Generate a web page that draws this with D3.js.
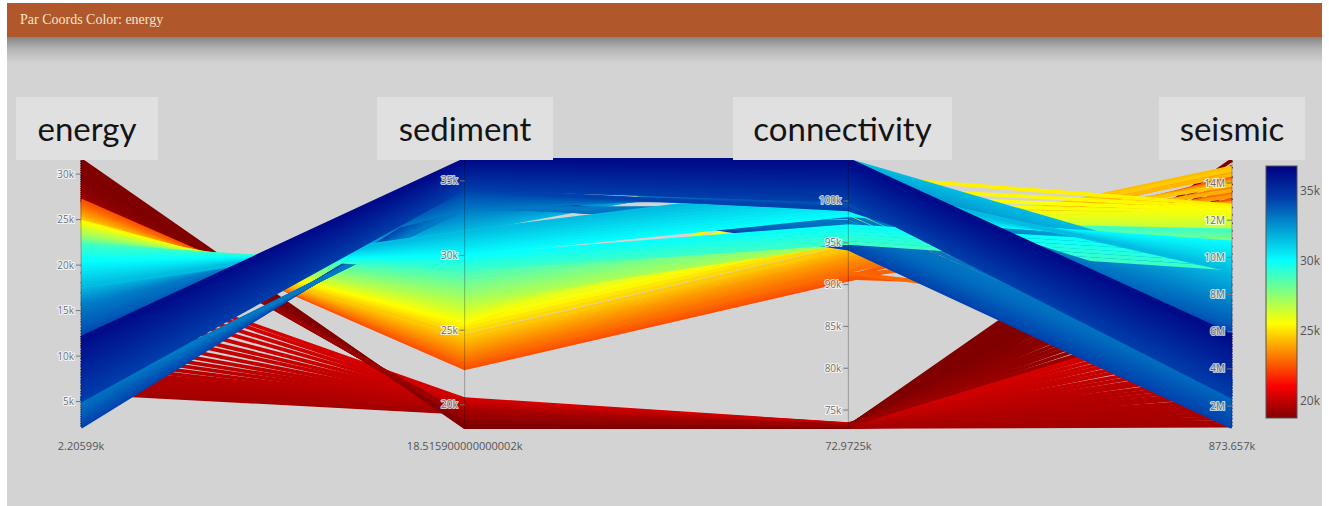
<!DOCTYPE html>
<html>
<head>
<meta charset="utf-8">
<script src="https://cdn.jsdelivr.net/npm/d3@7"></script>
<style>
  html, body { margin: 0; padding: 0; background: #ffffff; }
  svg { display: block; }
</style>
</head>
<body>
<svg id="chart" width="1329" height="506"></svg>
<script>
// ---- data -------------------------------------------------------------
const dimensions   = ["energy", "sediment", "connectivity", "seismic"];
const unitSuffix   = ["k", "k", "k", "M"];
const rangeLabels  = ["2.20599k", "18.515900000000002k", "72.9725k", "873.657k"];
const energyTicks  = [5, 10, 15, 20, 25, 30];
const sedimentTicks = [20, 25, 30, 35];
const connectivityTicks = [75, 80, 85, 90, 95, 100];
const seismicTicks = [2, 4, 6, 8, 10, 12, 14];
const colorTicks   = [20, 25, 30, 35];
const colorRange   = [18.8, 36.8];   // sediment (k) span of the colour bar
const chartTitle   = "Par Coords Color: energy";

// records: [energy (k), sediment (k), connectivity (k), seismic (M)]
const redLow = [
  [20.1, 20.38, 73.31, 6.95], [19.3, 20.33, 73.28, 6.7], [18.2, 20.27, 73.26, 6.35],
  [17.1, 20.22, 73.23, 6.0], [15.9, 20.16, 73.21, 5.7], [14.8, 20.11, 73.19, 5.35],
  [13.9, 20.07, 73.17, 5.05], [12.9, 20.02, 73.15, 4.7], [12.0, 19.97, 73.13, 4.4],
  [11.2, 19.93, 73.11, 4.1], [10.5, 19.88, 73.10, 3.85], [9.8, 19.84, 73.09, 3.55],
  [9.2, 19.80, 73.07, 3.3], [8.7, 19.77, 73.06, 3.05], [8.3, 19.73, 73.05, 2.8],
  [7.9, 19.70, 73.04, 2.6], [7.6, 19.67, 73.03, 2.35], [7.3, 19.64, 73.02, 2.15],
  [7.0, 19.61, 73.01, 1.95], [6.8, 19.58, 73.00, 1.75], [6.55, 19.55, 72.99, 1.55],
  [6.35, 19.52, 72.99, 1.35], [6.15, 19.50, 72.98, 1.15], [6.0, 19.47, 72.98, 0.95]
];
const redDark = [
  [31.55, 18.5159, 72.9725, 15.24], [31.3, 18.55, 72.98, 14.9], [31.05, 18.58, 72.99, 14.4],
  [30.8, 18.61, 73.00, 14.0], [30.55, 18.65, 73.01, 13.6], [30.3, 18.68, 73.02, 13.2],
  [30.05, 18.72, 73.03, 12.75], [29.8, 18.75, 73.04, 12.35], [29.55, 18.79, 73.05, 11.9],
  [29.3, 18.83, 73.06, 11.5], [29.05, 18.87, 73.07, 11.1], [28.8, 18.91, 73.08, 10.65],
  [28.55, 18.95, 73.09, 10.25], [28.35, 18.99, 73.10, 9.85], [28.1, 19.03, 73.12, 9.45],
  [27.9, 19.08, 73.13, 9.0], [27.7, 19.12, 73.15, 8.6], [27.5, 19.17, 73.16, 8.2],
  [27.3, 19.22, 73.18, 7.75], [27.15, 19.28, 73.20, 7.3]
];
const orange = [
  [27.1, 22.45, 90.6, 13.1], [26.95, 22.55, 90.8, 8.2], [26.8, 22.65, 91.0, 14.3],
  [26.65, 22.75, 91.2, 10.6], [26.5, 22.9, 91.4, 6.6], [26.35, 23.0, 91.6, 13.45],
  [26.2, 23.15, 92.0, 12.85], [26.05, 23.3, 92.3, 13.75], [25.9, 23.45, 92.6, 14.15],
  [25.75, 23.6, 92.9, 14.6], [25.6, 23.75, 93.2, 13.3], [25.45, 23.9, 93.5, 14.05],
  [25.3, 24.05, 93.7, 12.95], [25.2, 24.15, 93.9, 13.6], [25.1, 24.3, 94.1, 14.45],
  [25.0, 24.4, 94.3, 14.85], [24.9, 24.55, 94.5, 13.9], [24.85, 24.6, 94.4, 14.7]
];
const yellowBand = [
  [24.75, 24.9, 95.0, 11.3], [24.65, 25.15, 95.4, 11.38], [24.55, 25.4, 95.8, 11.45],
  [24.45, 25.65, 96.2, 11.52], [24.35, 25.9, 96.6, 11.6], [24.25, 26.15, 97.0, 11.68],
  [24.1, 26.4, 97.4, 11.75], [24.0, 26.65, 97.8, 11.82], [23.9, 26.9, 98.3, 11.9]
];
const yellowFan = [
  [24.8, 25.3, 103.0, 12.8], [24.7, 25.43, 101.7, 12.67], [24.6, 25.56, 100.6, 12.55],
  [24.5, 25.69, 99.7, 12.42], [24.4, 25.82, 98.9, 12.3], [24.3, 25.95, 98.3, 12.18],
  [24.2, 26.08, 97.8, 12.07], [24.1, 26.21, 97.4, 11.96], [23.95, 26.34, 97.0, 11.85],
  [23.85, 26.47, 96.6, 11.75], [23.75, 26.6, 96.2, 11.63], [23.6, 26.73, 95.8, 11.52],
  [23.5, 26.86, 95.4, 11.42], [23.35, 27.0, 95.0, 11.3]
];
const lime = [
  [23.2, 27.2, 95.0, 10.75], [23.05, 27.45, 95.35, 10.85], [22.9, 27.7, 95.7, 10.95],
  [22.75, 27.95, 96.0, 11.05], [22.6, 28.2, 96.35, 11.15], [22.45, 28.45, 96.7, 11.25],
  [22.3, 28.7, 97.05, 11.35], [22.2, 28.95, 97.4, 11.45]
];
const lightBlue = [
  [17.45, 31.65, 104.85, 9.2], [17.28, 31.77, 104.55, 9.03], [17.1, 31.9, 104.25, 8.86],
  [16.92, 32.02, 104.0, 8.7], [16.75, 32.15, 103.75, 8.53], [16.58, 32.27, 103.5, 8.37],
  [16.4, 32.4, 103.25, 8.2], [16.22, 32.52, 103.0, 8.05], [16.05, 32.65, 102.75, 7.88],
  [15.87, 32.77, 102.5, 7.72], [15.7, 32.9, 102.25, 7.56], [15.5, 33.0, 102.0, 7.4]
];
const blueLow = [
  [2.20599, 34.4, 94.3, 0.873657], [2.45, 34.3, 94.55, 1.05], [2.7, 34.2, 94.8, 1.25],
  [2.95, 34.1, 95.05, 1.42], [3.2, 34.0, 95.3, 1.6], [3.45, 33.9, 95.55, 1.8],
  [3.7, 33.8, 95.8, 1.97], [3.95, 33.7, 96.05, 2.15], [4.2, 33.6, 96.3, 2.33],
  [4.45, 33.5, 96.55, 2.5], [4.7, 33.42, 96.8, 2.7], [4.95, 33.35, 97.1, 2.9],
  [5.05, 33.3, 97.5, 3.05], [5.15, 33.25, 98.0, 3.15], [5.25, 33.2, 98.6, 3.25],
  [5.4, 33.15, 99.2, 3.35]
];
const cyanFlat = [
  [22.1, 29.1, 95.0, 9.4], [21.8, 29.28, 95.4, 9.62], [21.5, 29.45, 95.8, 9.84],
  [21.2, 29.62, 96.2, 10.06], [20.9, 29.8, 96.6, 10.28], [20.6, 29.97, 97.0, 10.5]
];
const cyanCross = [
  [20.3, 30.1, 98.3, 10.8], [20.0, 30.27, 98.7, 10.64], [19.7, 30.43, 99.1, 10.47],
  [19.4, 30.6, 99.5, 10.3], [19.1, 30.77, 99.9, 10.14], [18.8, 30.93, 100.3, 9.97],
  [18.5, 31.1, 100.7, 9.8], [18.2, 31.27, 101.1, 9.63], [17.9, 31.43, 101.55, 9.47],
  [17.6, 31.6, 102.0, 9.3]
];
const blueMid = [
  [15.4, 33.1, 101.5, 7.35], [15.1, 33.2, 101.25, 7.2], [14.8, 33.3, 101.0, 7.05],
  [14.5, 33.4, 100.8, 6.9], [14.2, 33.5, 100.55, 6.8], [13.9, 33.6, 100.3, 6.65],
  [13.6, 33.7, 100.1, 6.5], [13.3, 33.8, 99.9, 6.4], [12.95, 33.95, 99.65, 6.25],
  [12.65, 34.1, 99.45, 6.1], [12.3, 34.25, 99.2, 6.0], [12.0, 34.4, 99.0, 5.85]
];
const navy = [
  [5.1, 34.5, 100.0, 2.5], [5.35, 34.57, 100.25, 2.64], [5.7, 34.67, 100.4, 2.77],
  [5.95, 34.74, 100.6, 2.92], [6.3, 34.83, 100.85, 3.05], [6.55, 34.9, 101.0, 3.2],
  [6.9, 34.99, 101.2, 3.33], [7.15, 35.05, 101.45, 3.47], [7.45, 35.15, 101.6, 3.6],
  [7.8, 35.22, 101.8, 3.75], [8.05, 35.31, 102.05, 3.88], [8.35, 35.37, 102.2, 4.02],
  [8.7, 35.47, 102.4, 4.15], [8.95, 35.53, 102.65, 4.3], [9.25, 35.63, 102.8, 4.43],
  [9.6, 35.7, 103.0, 4.57], [9.85, 35.79, 103.25, 4.7], [10.15, 35.86, 103.4, 4.85],
  [10.45, 35.95, 103.6, 4.98], [10.75, 36.02, 103.85, 5.12], [11.0, 36.11, 104.0, 5.25],
  [11.25, 36.18, 104.2, 5.4], [11.5, 36.27, 104.45, 5.53], [11.75, 36.33, 104.7, 5.67],
  [12.0, 36.4, 104.9, 5.8]
];
// Plotly "Jet" stops; high sediment maps to the dark-blue end
const jetStops = [
  [0, "rgb(0,0,131)"], [0.125, "rgb(0,60,170)"], [0.375, "rgb(5,255,255)"],
  [0.625, "rgb(255,255,0)"], [0.875, "rgb(250,0,0)"], [1, "rgb(128,0,0)"]
];

// ---- layout -----------------------------------------------------------
const W = 1329, H = 506;
const plotTop = 160, plotBottom = 427, axisLeft = 81, axisRight = 1232;
const tickSets = [energyTicks, sedimentTicks, connectivityTicks, seismicTicks];

const svg = d3.select("#chart");

// page panel + header
svg.append("rect").attr("x", 7).attr("y", 3).attr("width", W - 14).attr("height", H - 3).attr("fill", "#d3d3d3");
const defs = svg.append("defs");
const shade = defs.append("linearGradient").attr("id", "headerShade").attr("x1", 0).attr("y1", 0).attr("x2", 0).attr("y2", 1);
shade.append("stop").attr("offset", 0).attr("stop-color", "#858585");
shade.append("stop").attr("offset", 0.45).attr("stop-color", "#b4b4b4");
shade.append("stop").attr("offset", 1).attr("stop-color", "#d3d3d3");
svg.append("rect").attr("x", 7).attr("y", 37).attr("width", W - 14).attr("height", 26).attr("fill", "url(#headerShade)");
svg.append("rect").attr("x", 7).attr("y", 3).attr("width", W - 14).attr("height", 34).attr("fill", "#b0572c");
svg.append("text").attr("x", 20).attr("y", 24)
  .attr("font-family", "'Liberation Serif', 'DejaVu Serif', serif").attr("font-size", 14)
  .attr("fill", "#f4e6c9").text(chartTitle);

// scales; groups listed in paint order (later groups sit on top)
const groups = [redLow, redDark, orange, yellowBand, yellowFan, lime, lightBlue, blueLow, cyanFlat, cyanCross, blueMid, navy];
const records = [].concat(...groups);
const x = d3.scalePoint().domain(dimensions).range([axisLeft, axisRight]);
const y = dimensions.map((dim, i) =>
  d3.scaleLinear().domain(d3.extent(records, r => r[i])).range([plotBottom, plotTop]));

const [cmin, cmax] = colorRange;
const color = d3.scaleLinear()
  .domain(jetStops.map(s => cmax - s[0] * (cmax - cmin)))
  .range(jetStops.map(s => s[1]))
  .interpolate(d3.interpolateRgb)
  .clamp(true);

// polylines, one per record, coloured by sediment
const line = d3.line()
  .x((v, i) => x(dimensions[i]))
  .y((v, i) => y[i](v));

svg.append("g").attr("class", "lines")
  .selectAll("path")
  .data(records)
  .join("path")
  .attr("d", r => line(r))
  .attr("fill", "none")
  .attr("stroke", r => color(r[1]))
  .attr("stroke-width", 3.8)
  .attr("stroke-linejoin", "miter");

// axes
const axes = svg.append("g").attr("class", "axes")
  .selectAll("g")
  .data(dimensions)
  .join("g")
  .attr("transform", d => `translate(${x(d)},0)`);

axes.append("line")
  .attr("y1", plotTop).attr("y2", plotBottom)
  .attr("stroke", "#000").attr("stroke-opacity", 0.28).attr("stroke-width", 1);

axes.each(function (dim, i) {
  const g = d3.select(this);
  const ticks = g.selectAll("g.tick").data(tickSets[i]).join("g")
    .attr("class", "tick")
    .attr("transform", v => `translate(0,${y[i](v)})`);
  ticks.append("line").attr("x1", -5).attr("x2", 0)
    .attr("stroke", "#777").attr("stroke-width", 1);
  ticks.append("text")
    .attr("x", -7).attr("dy", "0.35em").attr("text-anchor", "end")
    .attr("font-family", "'Open Sans', sans-serif").attr("font-size", 10)
    .attr("fill", "#6f6f6f")
    .attr("stroke", "#ffffff").attr("stroke-width", 2.2).attr("stroke-opacity", 0.75)
    .attr("paint-order", "stroke").attr("stroke-linejoin", "round")
    .text(v => v + unitSuffix[i]);
  g.append("text")
    .attr("y", 450).attr("text-anchor", "middle")
    .attr("font-family", "'Open Sans', sans-serif").attr("font-size", 11)
    .attr("fill", "#555")
    .text(rangeLabels[i]);
});

// axis title plates
const titleBoxes = [[16, 142], [377, 176], [733, 219], [1159, 146]];
const titles = svg.append("g").attr("class", "titles");
dimensions.forEach((dim, i) => {
  const [bx, bw] = titleBoxes[i];
  titles.append("rect").attr("x", bx).attr("y", 97).attr("width", bw).attr("height", 63).attr("fill", "#e0e0e0");
  titles.append("text").attr("x", bx + bw / 2).attr("y", 141)
    .attr("text-anchor", "middle")
    .attr("font-family", "Lato, 'Open Sans', sans-serif").attr("font-size", 33)
    .attr("fill", "#141414").text(dim);
});

// colour bar
const cbX = 1266, cbW = 31, cbTop = 166, cbBottom = 418;
const grad = defs.append("linearGradient").attr("id", "jetBar").attr("x1", 0).attr("y1", 0).attr("x2", 0).attr("y2", 1);
jetStops.forEach(s => grad.append("stop").attr("offset", s[0]).attr("stop-color", s[1]));
svg.append("rect").attr("x", cbX).attr("y", cbTop).attr("width", cbW).attr("height", cbBottom - cbTop)
  .attr("fill", "url(#jetBar)").attr("stroke", "#555").attr("stroke-width", 1);
const cb = d3.scaleLinear().domain([cmin, cmax]).range([cbBottom, cbTop]);
svg.append("g").selectAll("text").data(colorTicks).join("text")
  .attr("x", cbX + cbW + 3).attr("y", v => cb(v)).attr("dy", "0.35em")
  .attr("font-family", "'Open Sans', sans-serif").attr("font-size", 12)
  .attr("fill", "#555").text(v => v + "k");
</script>
</body>
</html>
